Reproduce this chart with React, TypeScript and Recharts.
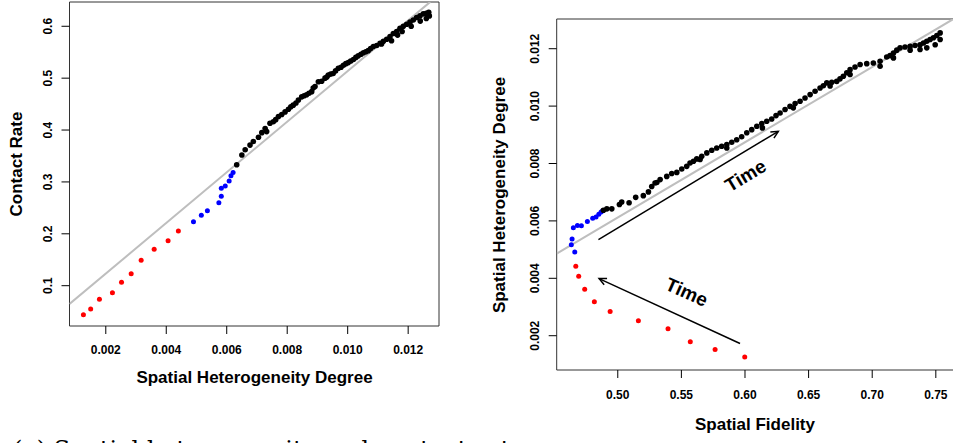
import React from "react"
import {
  ReferenceArea,
  ReferenceDot,
  ReferenceLine,
  Scatter,
  ScatterChart,
  XAxis,
  YAxis
} from "recharts"

type Pt = [number, number]

// left panel: spatial heterogeneity degree vs contact rate
const leftRed: Pt[] = [
  [0.00126, 0.0441], [0.0015, 0.0551], [0.00179, 0.0738], [0.00222, 0.0865],
  [0.00252, 0.1066], [0.00284, 0.123], [0.00317, 0.149], [0.0036, 0.17],
  [0.00406, 0.1867], [0.0044, 0.2054]
]
const leftBlue: Pt[] = [
  [0.0049, 0.2233], [0.00516, 0.2357], [0.00536, 0.2445], [0.00574, 0.26],
  [0.00582, 0.2723], [0.00582, 0.2877], [0.00595, 0.2921], [0.00608, 0.3018],
  [0.00614, 0.312], [0.00621, 0.318]
]
const leftBlack: Pt[] = [
  [0.00633, 0.333], [0.0065, 0.352], [0.00661, 0.362], [0.00677, 0.371], [0.00688, 0.378],
  [0.00705, 0.386], [0.00716, 0.395], [0.00727, 0.403], [0.00732, 0.397], [0.00743, 0.413],
  [0.00754, 0.416], [0.00762, 0.42], [0.00771, 0.426], [0.00782, 0.43], [0.00793, 0.435],
  [0.00804, 0.44], [0.00812, 0.445], [0.0082, 0.448], [0.00829, 0.452], [0.00837, 0.458],
  [0.00848, 0.464], [0.00856, 0.466], [0.00864, 0.468], [0.00872, 0.471], [0.00881, 0.474],
  [0.00886, 0.481], [0.00892, 0.484], [0.00903, 0.493], [0.00914, 0.494], [0.00925, 0.5],
  [0.00931, 0.502], [0.00936, 0.506], [0.00944, 0.508], [0.00952, 0.509], [0.0096, 0.514],
  [0.00969, 0.519], [0.00978, 0.521], [0.00986, 0.525], [0.00994, 0.528], [0.01002, 0.53],
  [0.0101, 0.533], [0.01019, 0.536], [0.01027, 0.54], [0.01035, 0.543], [0.01044, 0.546],
  [0.01052, 0.549], [0.0106, 0.551], [0.01068, 0.553], [0.01076, 0.557], [0.01085, 0.561],
  [0.01096, 0.563], [0.01107, 0.567], [0.01112, 0.566], [0.01118, 0.571], [0.01129, 0.575],
  [0.0114, 0.58], [0.01145, 0.572], [0.01151, 0.586], [0.01162, 0.59], [0.01165, 0.583],
  [0.01173, 0.596], [0.0118, 0.59], [0.01184, 0.6], [0.01195, 0.604], [0.01206, 0.608],
  [0.0121, 0.6], [0.01217, 0.612], [0.01228, 0.617], [0.01239, 0.62], [0.0124, 0.61],
  [0.0125, 0.624], [0.0126, 0.625], [0.0126, 0.615], [0.01268, 0.627], [0.0127, 0.62]
]
const leftFit: Pt[] = [[0.0008, 0.0647], [0.01273, 0.647]]
const leftXDomain = [0.0008, 0.01302]
const leftYDomain = [0.0223, 0.6468]
const leftXTicks = [0.002, 0.004, 0.006, 0.008, 0.01, 0.012]
const leftYTicks = [0.1, 0.2, 0.3, 0.4, 0.5, 0.6]

// right panel: spatial fidelity vs spatial heterogeneity degree
const rightRed: Pt[] = [
  [0.467, 0.00442], [0.4693, 0.00407], [0.474, 0.00362], [0.4816, 0.00318],
  [0.494, 0.00284], [0.5162, 0.00252], [0.5395, 0.00224], [0.557, 0.00179],
  [0.5765, 0.00152], [0.5998, 0.00126]
]
const rightBlue: Pt[] = [
  [0.4662, 0.00492], [0.4635, 0.00517], [0.4641, 0.00537], [0.4651, 0.00576],
  [0.4683, 0.00584], [0.4714, 0.00583], [0.4761, 0.00598], [0.4803, 0.00609],
  [0.4829, 0.00614], [0.4851, 0.00623], [0.4869, 0.00631], [0.4882, 0.00635]
]
const rightBlack: Pt[] = [
  [0.4887, 0.00637], [0.4914, 0.00642], [0.4953, 0.00642], [0.5013, 0.00657], [0.5031, 0.00666],
  [0.5089, 0.00663], [0.5141, 0.00682], [0.5201, 0.00688], [0.5241, 0.00701], [0.5267, 0.0072],
  [0.5293, 0.00732], [0.5307, 0.00734], [0.5333, 0.00744], [0.5385, 0.00755], [0.5424, 0.00765],
  [0.5464, 0.00769], [0.5503, 0.00781], [0.5542, 0.0079], [0.5568, 0.00802], [0.5595, 0.00808],
  [0.5621, 0.00816], [0.5647, 0.00814], [0.566, 0.00825], [0.57, 0.00837], [0.5739, 0.00846],
  [0.5778, 0.00854], [0.5817, 0.0086], [0.5857, 0.00866], [0.5857, 0.00854], [0.5896, 0.00874],
  [0.5935, 0.00883], [0.5974, 0.00893], [0.6014, 0.00907], [0.6053, 0.00918], [0.6093, 0.0093],
  [0.6137, 0.00924], [0.6132, 0.00939], [0.6171, 0.00947], [0.621, 0.00955], [0.6244, 0.00967],
  [0.6276, 0.00976], [0.6315, 0.00988], [0.6354, 0.00999], [0.638, 0.00994], [0.6394, 0.01009],
  [0.6433, 0.01017], [0.6472, 0.01028], [0.6512, 0.0104], [0.6551, 0.01052], [0.659, 0.01063],
  [0.6616, 0.01071], [0.6643, 0.01081], [0.6669, 0.0107], [0.6682, 0.01083], [0.6721, 0.01086],
  [0.6747, 0.01095], [0.6773, 0.01104], [0.68, 0.01116], [0.6826, 0.01127], [0.6826, 0.0111],
  [0.6865, 0.01136], [0.6905, 0.01145], [0.6957, 0.01148], [0.7009, 0.0115], [0.7062, 0.01156],
  [0.7062, 0.01139], [0.7114, 0.01171], [0.714, 0.01176], [0.7167, 0.01185], [0.7167, 0.01168],
  [0.7193, 0.01195], [0.7219, 0.01203], [0.7258, 0.01206], [0.7298, 0.01208], [0.7298, 0.01195],
  [0.7337, 0.01211], [0.7376, 0.01214], [0.7376, 0.01197], [0.7403, 0.0122], [0.7429, 0.01226],
  [0.7429, 0.01203], [0.7455, 0.01232], [0.7481, 0.01238], [0.7495, 0.01214], [0.7508, 0.01246],
  [0.7534, 0.01255], [0.7534, 0.01232]
]
const rightFit: Pt[] = [[0.452, 0.00486], [0.7636, 0.01303]]
const rightXDomain = [0.452, 0.7639]
const rightYDomain = [0.000805, 0.013035]
const rightXTicks = [0.5, 0.55, 0.6, 0.65, 0.7, 0.75]
const rightYTicks = [0.002, 0.004, 0.006, 0.008, 0.01, 0.012]
const timeArrows: [Pt, Pt][] = [
  [[0.4848, 0.00535], [0.6262, 0.00912]],
  [[0.5961, 0.00173], [0.4853, 0.00399]]
]
const timeLabels = [
  { x: 0.6005, y: 0.00758, angle: -31, text: "Time" },
  { x: 0.5542, y: 0.00352, angle: 24, text: "Time" }
]

const FONT = "'Liberation Sans', Arial, Helvetica, sans-serif"
const toObj = (pts: Pt[]) => pts.map(([x, y]) => ({ x, y }))

const dot = (color: string, r: number) => (p: any) => (
  <circle cx={p.cx} cy={p.cy} r={r} fill={color} />
)

const rotTick = (digits: number) => (p: any) => (
  <text
    x={p.x}
    y={p.y}
    transform={`rotate(-90 ${p.x} ${p.y})`}
    textAnchor="middle"
    fontFamily={FONT}
    fontSize={12}
    fontWeight="bold"
    fill="#000"
  >
    {Number(p.payload.value).toFixed(digits)}
  </text>
)

function Arrow(p: any) {
  const { x1, y1, x2, y2 } = p
  const a = Math.atan2(y2 - y1, x2 - x1)
  const len = 8
  const s = Math.PI / 7
  const ax = x2 - len * Math.cos(a - s)
  const ay = y2 - len * Math.sin(a - s)
  const bx = x2 - len * Math.cos(a + s)
  const by = y2 - len * Math.sin(a + s)
  return (
    <g>
      <line x1={x1} y1={y1} x2={x2} y2={y2} stroke="#000" strokeWidth={1.5} />
      <path d={`M${ax},${ay} L${x2},${y2} L${bx},${by}`} fill="none" stroke="#000" strokeWidth={1.5} />
    </g>
  )
}

const tickStyle = { fill: "#000", fontSize: 12, fontWeight: "bold", fontFamily: FONT }

function Title({ x, y, vertical, children }: any) {
  return (
    <div
      style={{
        position: "absolute",
        left: x,
        top: y,
        transform: `translate(-50%, -50%)${vertical ? " rotate(-90deg)" : ""}`,
        whiteSpace: "nowrap",
        fontFamily: FONT,
        fontWeight: "bold",
        fontSize: 17,
        lineHeight: "17px",
        color: "#000"
      }}
    >
      {children}
    </div>
  )
}

export default function App() {
  return (
    <div
      style={{
        position: "absolute",
        left: 0,
        top: 0,
        width: 953,
        height: 443,
        overflow: "hidden",
        background: "#fff"
      }}
    >
      <div style={{ position: "absolute", left: 0, top: 0 }}>
        <ScatterChart
          width={460}
          height={443}
          margin={{ top: 2, right: 21, bottom: 77, left: 29.5 }}
        >
          <XAxis
            type="number"
            dataKey="x"
            domain={leftXDomain}
            allowDataOverflow
            ticks={leftXTicks}
            interval={0}
            tickFormatter={(v) => Number(v).toFixed(3)}
            height={40}
            tickSize={8}
            tickMargin={11}
            axisLine={false}
            tickLine={{ stroke: "#000" }}
            tick={tickStyle}
          />
          <YAxis
            type="number"
            dataKey="y"
            domain={leftYDomain}
            allowDataOverflow
            ticks={leftYTicks}
            interval={0}
            width={40}
            tickSize={8}
            tickMargin={9}
            axisLine={false}
            tickLine={{ stroke: "#000" }}
            tick={rotTick(1)}
          />
          <ReferenceArea
            x1={leftXDomain[0]}
            x2={leftXDomain[1]}
            y1={leftYDomain[0]}
            y2={leftYDomain[1]}
            fill="#fff"
            fillOpacity={0}
            stroke="#333"
            strokeWidth={1}
            ifOverflow="visible"
          />
          <Scatter data={toObj(leftRed)} shape={dot("#ff0000", 2.5)} isAnimationActive={false} />
          <Scatter data={toObj(leftBlue)} shape={dot("#0000ff", 2.5)} isAnimationActive={false} />
          <Scatter data={toObj(leftBlack)} shape={dot("#000", 2.8)} isAnimationActive={false} />
          <ReferenceLine
            segment={leftFit.map(([x, y]) => ({ x, y }))}
            stroke="#bebebe"
            strokeWidth={2}
            ifOverflow="hidden"
          />
        </ScatterChart>
      </div>

      <div style={{ position: "absolute", left: 480, top: 0 }}>
        <ScatterChart
          width={500}
          height={443}
          margin={{ top: 19, right: 26.5, bottom: 33, left: 36.7 }}
        >
          <XAxis
            type="number"
            dataKey="x"
            domain={rightXDomain}
            allowDataOverflow
            ticks={rightXTicks}
            interval={0}
            tickFormatter={(v) => Number(v).toFixed(2)}
            height={40}
            tickSize={8}
            tickMargin={12}
            axisLine={false}
            tickLine={{ stroke: "#000" }}
            tick={tickStyle}
          />
          <YAxis
            type="number"
            dataKey="y"
            domain={rightYDomain}
            allowDataOverflow
            ticks={rightYTicks}
            interval={0}
            width={40}
            tickSize={8}
            tickMargin={10}
            axisLine={false}
            tickLine={{ stroke: "#000" }}
            tick={rotTick(3)}
          />
          <ReferenceArea
            x1={rightXDomain[0]}
            x2={rightXDomain[1]}
            y1={rightYDomain[0]}
            y2={rightYDomain[1]}
            fill="#fff"
            fillOpacity={0}
            stroke="#333"
            strokeWidth={1}
            ifOverflow="visible"
          />
          <Scatter data={toObj(rightRed)} shape={dot("#ff0000", 2.5)} isAnimationActive={false} />
          <Scatter data={toObj(rightBlue)} shape={dot("#0000ff", 2.5)} isAnimationActive={false} />
          <Scatter data={toObj(rightBlack)} shape={dot("#000", 2.8)} isAnimationActive={false} />
          <ReferenceLine
            segment={rightFit.map(([x, y]) => ({ x, y }))}
            stroke="#bebebe"
            strokeWidth={2}
            ifOverflow="hidden"
          />
          {timeArrows.map((seg, i) => (
            <ReferenceLine
              key={`arrow-${i}`}
              segment={seg.map(([x, y]) => ({ x, y }))}
              shape={Arrow}
              ifOverflow="visible"
            />
          ))}
          {timeLabels.map((l, i) => (
            <ReferenceDot
              key={`time-${i}`}
              x={l.x}
              y={l.y}
              r={0}
              ifOverflow="visible"
              shape={(p: any) => (
                <text
                  x={p.cx}
                  y={p.cy}
                  transform={`rotate(${l.angle} ${p.cx} ${p.cy})`}
                  textAnchor="middle"
                  dominantBaseline="central"
                  fontFamily={FONT}
                  fontWeight="bold"
                  fontSize={19}
                  fill="#000"
                >
                  {l.text}
                </text>
              )}
            />
          ))}
        </ScatterChart>
      </div>

      <Title x={15.5} y={164} vertical>Contact Rate</Title>
      <Title x={254.5} y={376.5}>Spatial Heterogeneity Degree</Title>
      <Title x={498.5} y={194.5} vertical>Spatial Heterogeneity Degree</Title>
      <Title x={755} y={424}>Spatial Fidelity</Title>

      <div
        style={{
          position: "absolute",
          left: 13,
          top: 438,
          fontFamily: "'DejaVu Serif', 'Liberation Serif', serif",
          fontSize: 24,
          lineHeight: "24px",
          whiteSpace: "nowrap",
          color: "#000"
        }}
      >
        (a) Spatial heterogeneity and contact rate
      </div>
    </div>
  )
}
